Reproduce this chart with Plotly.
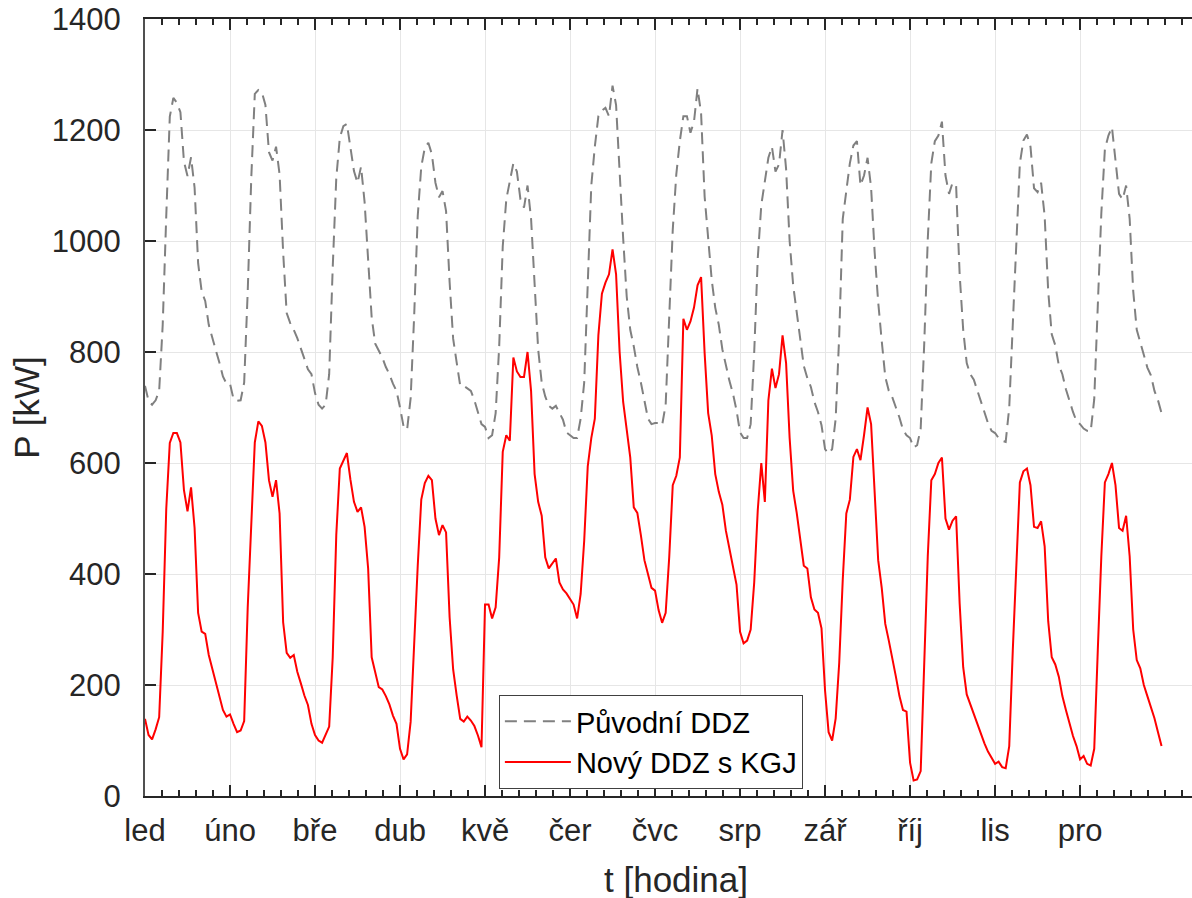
import plotly.graph_objects as go

# Month labels (one average day = 24 hours per month)
mesice = ["led", "úno", "bře", "dub", "kvě", "čer", "čvc", "srp", "zář", "říj", "lis", "pro"]
hodin_za_den = 24

# Původní DDZ [kW] - hourly values, one row per month
puvodni_ddz = [
    739, 712, 705, 713, 730, 849, 1045, 1224, 1258, 1249, 1232, 1143, 1117, 1151, 1096, 960, 909, 892, 849, 824, 803, 781, 756, 743,
    743, 715, 712, 713, 745, 909, 1113, 1265, 1272, 1268, 1245, 1160, 1145, 1170, 1120, 980, 870, 852, 840, 825, 805, 785, 769, 760,
    726, 705, 698, 705, 760, 952, 1113, 1186, 1207, 1211, 1164, 1126, 1105, 1134, 1070, 960, 862, 815, 802, 790, 773, 760, 743, 730,
    700, 666, 660, 717, 866, 1045, 1134, 1168, 1177, 1156, 1105, 1079, 1090, 1054, 926, 824, 781, 739, 739, 735, 730, 713, 692, 670,
    665, 645, 650, 690, 810, 990, 1075, 1105, 1140, 1125, 1075, 1060, 1100, 1040, 910, 805, 745, 720, 703, 698, 703, 690, 678, 655,
    650, 645, 645, 680, 745, 920, 1100, 1170, 1225, 1235, 1240, 1225, 1280, 1245, 1115, 1005, 900, 840, 810, 773, 745, 710, 680, 670,
    672, 672, 668, 705, 850, 1020, 1120, 1180, 1225, 1225, 1195, 1215, 1275, 1230, 1080, 1005, 930, 880, 849, 805, 775, 748, 725, 695,
    655, 645, 645, 670, 800, 969, 1065, 1105, 1150, 1170, 1125, 1138, 1200, 1130, 1000, 920, 872, 815, 775, 753, 737, 710, 692, 668,
    625, 617, 625, 680, 830, 1040, 1096, 1140, 1172, 1180, 1100, 1118, 1150, 1096, 980, 890, 820, 755, 730, 718, 700, 682, 660, 650,
    645, 628, 632, 662, 815, 1003, 1140, 1180, 1190, 1215, 1118, 1085, 1105, 1100, 940, 840, 780, 760, 750, 730, 710, 690, 672, 658,
    654, 645, 640, 638, 700, 849, 1010, 1140, 1181, 1192, 1170, 1095, 1088, 1105, 1045, 910, 832, 812, 776, 760, 733, 710, 692, 675,
    670, 662, 658, 657, 715, 883, 1050, 1165, 1190, 1205, 1140, 1085, 1075, 1100, 1040, 910, 840, 818, 795, 772, 758, 730, 713, 690,
]

# Nový DDZ s KGJ [kW]
novy_ddz = [
    139, 110, 102, 120, 142, 296, 517, 636, 654, 654, 637, 551, 513, 556, 483, 330, 296, 292, 254, 228, 207, 177, 155, 143,
    147, 130, 115, 118, 135, 340, 475, 637, 675, 667, 637, 569, 539, 569, 509, 313, 258, 249, 254, 224, 203, 181, 164, 130,
    110, 100, 96, 110, 125, 250, 470, 590, 605, 618, 570, 530, 512, 520, 485, 410, 250, 225, 196, 192, 180, 165, 145, 130,
    85, 66, 75, 134, 279, 415, 534, 564, 577, 569, 500, 470, 488, 475, 322, 228, 181, 139, 134, 143, 136, 126, 109, 88,
    345, 345, 320, 340, 430, 620, 650, 640, 790, 765, 755, 755, 800, 730, 580, 530, 505, 430, 410, 420, 428, 385, 372, 365,
    355, 345, 320, 364, 460, 594, 645, 680, 830, 905, 925, 940, 985, 940, 800, 710, 660, 610, 520, 510, 470, 425, 400, 375,
    370, 335, 312, 330, 430, 560, 577, 610, 860, 840, 855, 880, 920, 935, 798, 690, 650, 580, 548, 525, 478, 445, 407, 381,
    296, 275, 280, 300, 385, 515, 600, 530, 713, 770, 735, 760, 830, 780, 645, 550, 510, 460, 415, 410, 358, 336, 330, 302,
    190, 115, 100, 140, 240, 390, 509, 534, 611, 625, 605, 650, 700, 670, 543, 425, 375, 310, 280, 250, 215, 180, 155, 152,
    60, 28, 30, 45, 240, 432, 569, 580, 600, 610, 500, 480, 496, 504, 347, 232, 183, 165, 148, 130, 112, 95, 80, 68,
    58, 62, 52, 50, 90, 262, 420, 565, 585, 590, 560, 485, 483, 495, 450, 315, 250, 237, 215, 180, 155, 130, 108, 90,
    66, 72, 58, 55, 85, 262, 432, 565, 580, 600, 560, 483, 478, 505, 432, 300, 245, 230, 200, 180, 160, 140, 115, 90,
]

t_hod = list(range(len(puvodni_ddz)))
tick_pos = [i * hodin_za_den for i in range(len(mesice))]

FONT = "Liberation Sans, Arial, sans-serif"
AX = "#262626"

fig = go.Figure()
fig.add_trace(go.Scatter(
    x=t_hod, y=puvodni_ddz, mode="lines", name="Původní DDZ",
    line=dict(color="#808080", width=2, dash="12px,7px"),
))
fig.add_trace(go.Scatter(
    x=t_hod, y=novy_ddz, mode="lines", name="Nový DDZ s KGJ",
    line=dict(color="#ff0000", width=2),
))

fig.update_layout(
    width=1192, height=898,
    margin=dict(l=145, r=0, t=19, b=102),
    paper_bgcolor="white", plot_bgcolor="white",
    font=dict(family=FONT, color=AX),
    showlegend=True,
    legend=dict(
        x=0.338, y=0.13, xanchor="left", yanchor="top",
        bgcolor="white", bordercolor="#404040", borderwidth=1,
        font=dict(size=29, color="black", family=FONT),
        tracegroupgap=0, itemwidth=66,
    ),
)

fig.update_xaxes(
    range=[0, 295.6],
    tickmode="array", tickvals=tick_pos, ticktext=mesice,
    ticks="inside", ticklen=11, tickwidth=2, tickcolor=AX,
    showline=True, linecolor=AX, linewidth=2, mirror="ticks",
    showgrid=True, gridcolor="#e6e6e6", gridwidth=1, zeroline=False,
    tickfont=dict(size=31, color=AX, family=FONT),
    ticklabelstandoff=6,
    minor=dict(dtick=4.8, tick0=0, ticks="inside", ticklen=6, tickwidth=2,
               tickcolor=AX, showgrid=False),
)

fig.update_yaxes(
    range=[0, 1400], tickmode="linear", tick0=0, dtick=200,
    ticks="inside", ticklen=11, tickwidth=2, tickcolor=AX,
    showline=True, linecolor="#505050", linewidth=2, mirror=False,
    showgrid=True, gridcolor="#e6e6e6", gridwidth=1, zeroline=False,
    tickfont=dict(size=31, color=AX, family=FONT),
    ticklabelstandoff=16,
    title=dict(text="P [kW]", font=dict(size=35, color=AX, family=FONT), standoff=2),
)

fig.add_annotation(
    text="t [hodina]", x=150, xref="x", y=-0.107, yref="paper",
    xanchor="center", yanchor="middle", showarrow=False,
    font=dict(size=35, color=AX, family=FONT),
)

fig.write_html("out.html")
